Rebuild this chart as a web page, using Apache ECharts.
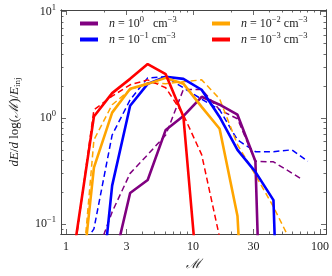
<!DOCTYPE html>
<html><head><meta charset="utf-8">
<script src="https://cdn.jsdelivr.net/npm/echarts@6/dist/echarts.min.js"></script>
<style>html,body{margin:0;padding:0;background:#fff}#c{width:332px;height:276px}</style>
</head><body><div id="c"></div>
<script>
// Mach numbers (bin centres) and dE/dlog(M)/E_inj values
const machP_solid = [2.31, 3.2, 4.4, 6.1, 8.4, 11.7, 16.2, 22.4, 31, 43];
const valP_solid  = [0.037, 0.196, 0.26, 0.77, 1.04, 1.58, 1.33, 1.07, 0.39, 0.000001];
const machP_dash  = [1.66, 2.31, 3.2, 4.4, 6.1, 8.4, 11.7, 16.2, 22.4, 31, 43, 70];
const valP_dash   = [0.044, 0.13, 0.30, 0.45, 0.69, 1.85, 1.85, 1.19, 0.98, 0.39, 0.385, 0.27];

const machB_solid = [1.66, 2.31, 3.2, 4.4, 6.1, 8.4, 11.7, 16.2, 22.4, 31, 43, 60];
const valB_solid  = [0.005, 0.23, 1.30, 2.09, 2.44, 2.33, 1.84, 1.02, 0.50, 0.31, 0.168, 0.000001];
const machB_dash  = [1.2, 1.66, 2.31, 3.2, 4.4, 6.1, 8.4, 11.7, 16.2, 22.4, 31, 43, 60, 80];
const valB_dash   = [0.05, 0.09, 0.69, 1.48, 2.38, 2.44, 1.92, 1.5, 1.19, 0.62, 0.48, 0.48, 0.50, 0.39];

const machO_solid = [1.2, 1.66, 2.31, 3.2, 4.4, 6.1, 8.4, 11.7, 16.2, 22.4, 31];
const valO_solid  = [0.009, 0.34, 1.12, 1.88, 2.09, 2.38, 2.1, 1.27, 0.79, 0.119, 0.0001];
const machO_dash  = [1.2, 1.66, 2.31, 3.2, 4.4, 6.1, 8.4, 11.7, 16.2, 22.4, 31, 43, 60];
const valO_dash   = [0.007, 0.62, 1.33, 1.84, 2.14, 2.1, 2.19, 2.28, 1.51, 0.56, 0.29, 0.145, 0.065];

const machR_solid = [1.2, 1.66, 2.31, 3.2, 4.4, 6.1, 8.4, 11.7];
const valR_solid  = [0.075, 1.03, 1.71, 2.33, 3.21, 2.58, 1.03, 0.011];
const machR_dash  = [1.2, 1.66, 2.31, 3.2, 4.4, 6.1, 8.4, 11.7, 16.2];
const valR_dash   = [0.07, 1.19, 1.6, 2.05, 2.28, 1.92, 1.07, 0.45, 0.075];

const xMajorTicks = [1, 3, 10, 30, 100];
const xMinorTicks = [2, 4, 5, 6, 7, 8, 9, 20, 40, 50, 60, 70, 80, 90];
const yMajorTicks = [0.1, 1, 10];
const yMinorTicks = [0.09, 0.2, 0.3, 0.4, 0.5, 0.6, 0.7, 0.8, 0.9, 2, 3, 4, 5, 6, 7, 8, 9];

const legendNames = ['n0', 'n1', 'n2', 'n3'];
const legendTexts = {
  n0: '{i|n}{r| = 10}{s|0}{r|   cm}{s|−3}',
  n1: '{i|n}{r| = 10}{s|−1}{r| cm}{s|−3}',
  n2: '{i|n}{r| = 10}{s|−2}{r| cm}{s|−3}',
  n3: '{i|n}{r| = 10}{s|−3}{r| cm}{s|−3}'
};
const colors = {n0: '#800080', n1: '#0000ff', n2: '#ffa500', n3: '#ff0000'};

const L = Math.log10;
const FONT = 'Liberation Serif';
const AX = '#444';
const xMin = -0.039, xMax = 2.047, yMin = -1.094, yMax = 1.016;

function xAx(pos, ticks, len, labels) {
  return {
    type: 'value', position: pos, min: xMin, max: xMax,
    axisLine: {show: true, onZero: false, lineStyle: {color: AX, width: 1}},
    axisTick: {show: true, inside: true, length: len, customValues: ticks.map(L), lineStyle: {color: AX, width: 0.8}},
    axisLabel: labels ? {show: true, customValues: ticks.map(L), margin: 7, color: '#222', fontFamily: FONT, fontSize: 12,
      formatter: v => String(Math.round(Math.pow(10, v)))} : {show: false},
    splitLine: {show: false}
  };
}
function yAx(pos, ticks, len, labels) {
  return {
    type: 'value', position: pos, min: yMin, max: yMax,
    axisLine: {show: true, onZero: false, lineStyle: {color: AX, width: 1}},
    axisTick: {show: true, inside: true, length: len, customValues: ticks.map(L), lineStyle: {color: AX, width: 0.8}},
    axisLabel: labels ? {show: true, customValues: ticks.map(L), margin: 5, color: '#222',
      formatter: v => { const e = Math.round(v); return '{b|10}{s|' + (e < 0 ? '−' + (-e) : e) + '}'; },
      rich: {b: {fontFamily: FONT, fontSize: 12, color: '#222'}, s: {fontFamily: FONT, fontSize: 8.5, color: '#222', padding: [0, 0, 8, 0]}}
    } : {show: false},
    splitLine: {show: false}
  };
}

function mk(name, mach, vals, color, dashed) {
  return {
    type: 'line', name: name, showSymbol: false, symbol: 'none', clip: true,
    xAxisIndex: 0, yAxisIndex: 0,
    data: mach.map((m, i) => [L(m), L(vals[i])]),
    itemStyle: {color: color},
    lineStyle: dashed ? {color: color, width: 1.5, type: [6, 3.5]} : {color: color, width: 2.6},
    z: dashed ? 2 : 3, animation: false
  };
}

const xs = xAx('bottom', xMajorTicks, 5, true);
xs.name = 'ℳ'; xs.nameLocation = 'middle'; xs.nameGap = 21;
xs.nameTextStyle = {fontFamily: FONT, fontSize: 13, color: '#222', fontStyle: 'italic'};
const ys = yAx('left', yMajorTicks, 5, true);
ys.name = '{i|dE}{r|/}{i|d}{r| log(}{i|ℳ}{r|)/}{i|E}{sub|inj}';
ys.nameLocation = 'middle'; ys.nameGap = 39;
ys.nameTextStyle = {rich: {
  i: {fontFamily: FONT, fontSize: 13, fontStyle: 'italic', color: '#222'},
  r: {fontFamily: FONT, fontSize: 13, color: '#222'},
  sub: {fontFamily: FONT, fontSize: 9, color: '#222', padding: [6, 0, 0, 0]}
}};

const legRich = {
  i: {fontFamily: FONT, fontSize: 12, fontStyle: 'italic', color: '#222', padding: [0, 0, 0, 6]},
  r: {fontFamily: FONT, fontSize: 12, color: '#222'},
  s: {fontFamily: FONT, fontSize: 8.5, color: '#222', padding: [0, 0, 8, 0]}
};
function leg(names, left) {
  return {
    data: names, left: left, top: 15, padding: 0, orient: 'vertical', itemWidth: 18, itemHeight: 4, itemGap: 0,
    icon: 'rect', selectedMode: false,
    formatter: n => legendTexts[n],
    textStyle: {rich: legRich, lineHeight: 15}
  };
}

const chart = echarts.init(document.getElementById('c'), null, {renderer: 'canvas'});
chart.setOption({
  animation: false,
  backgroundColor: '#fff',
  grid: {left: 60, right: 4, top: 10, bottom: 42, containLabel: false},
  legend: [leg(legendNames.slice(0, 2), 80), leg(legendNames.slice(2, 4), 212)],
  xAxis: [xs, xAx('bottom', xMinorTicks, 2.5, false), xAx('top', xMajorTicks, 5, false), xAx('top', xMinorTicks, 2.5, false)],
  yAxis: [ys, yAx('left', yMinorTicks, 2.5, false), yAx('right', yMajorTicks, 5, false), yAx('right', yMinorTicks, 2.5, false)],
  series: [
    mk('n0', machP_solid, valP_solid, colors.n0, false),
    mk('n0d', machP_dash, valP_dash, colors.n0, true),
    mk('n1', machB_solid, valB_solid, colors.n1, false),
    mk('n1d', machB_dash, valB_dash, colors.n1, true),
    mk('n2', machO_solid, valO_solid, colors.n2, false),
    mk('n2d', machO_dash, valO_dash, colors.n2, true),
    mk('n3', machR_solid, valR_solid, colors.n3, false),
    mk('n3d', machR_dash, valR_dash, colors.n3, true)
  ]
});
</script></body></html>
